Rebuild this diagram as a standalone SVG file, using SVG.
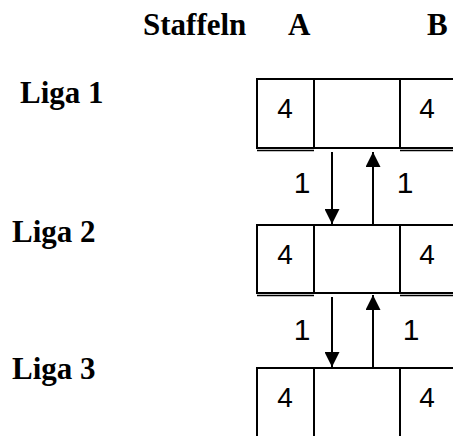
<svg xmlns="http://www.w3.org/2000/svg" width="453" height="436" viewBox="0 0 453 436">
<style>
.h{font-family:"Liberation Serif","Times New Roman",serif;font-weight:bold;font-size:31px;fill:#000}
.n{font-family:"Liberation Sans",Arial,sans-serif;font-size:28px;fill:#000;text-anchor:middle}
.o{font-family:"Liberation Sans",Arial,sans-serif;font-size:30px;fill:#000;text-anchor:middle}
.c{fill:#fff;stroke:#000;stroke-width:2}
.ln{stroke:#000;stroke-width:2;fill:none}
</style>
<defs>
<marker id="ah" viewBox="0 0 10 10" refX="10" refY="5" markerWidth="7.5" markerHeight="7.5" markerUnits="strokeWidth" orient="auto">
<path d="M0,0 L10,5 L0,10 z" fill="#000"/>
</marker>
</defs>
<rect width="453" height="436" fill="#fff"/>
<g id="headers">
<text class="h" x="143" y="35">Staffeln</text>
<text class="h" x="288" y="35">A</text>
<text class="h" x="427" y="35">B</text>
</g>
<g id="liga1-label"><text class="h" x="20" y="103">Liga 1</text></g>
<g id="liga2-label"><text class="h" x="12" y="242">Liga 2</text></g>
<g id="liga3-label"><text class="h" x="12" y="379">Liga 3</text></g>
<g id="liga1">
<rect class="c" x="257" y="79" width="57" height="69"/>
<rect class="c" x="314" y="79" width="86" height="69"/>
<rect class="c" x="400" y="79" width="60" height="69"/>
<line x1="257" y1="150.5" x2="314" y2="150.5" stroke="#000" stroke-width="1.5"/>
<line x1="400" y1="150.5" x2="453" y2="150.5" stroke="#000" stroke-width="1.5"/>
<text class="n" x="285" y="118">4</text>
<text class="n" x="427" y="118">4</text>
</g>
<g id="liga2">
<rect class="c" x="257" y="225" width="57" height="68"/>
<rect class="c" x="314" y="225" width="86" height="68"/>
<rect class="c" x="400" y="225" width="60" height="68"/>
<line x1="257" y1="295.5" x2="314" y2="295.5" stroke="#000" stroke-width="1.5"/>
<line x1="400" y1="295.5" x2="453" y2="295.5" stroke="#000" stroke-width="1.5"/>
<text class="n" x="285" y="264">4</text>
<text class="n" x="427" y="264">4</text>
</g>
<g id="liga3">
<rect class="c" x="257" y="368" width="57" height="80"/>
<rect class="c" x="314" y="368" width="86" height="80"/>
<rect class="c" x="400" y="368" width="60" height="80"/>
<text class="n" x="285" y="407">4</text>
<text class="n" x="427" y="407">4</text>
</g>
<g id="connectors">
<line class="ln" x1="332" y1="152" x2="332" y2="224" marker-end="url(#ah)"/>
<line class="ln" x1="373" y1="225" x2="373" y2="152" marker-end="url(#ah)"/>
<line class="ln" x1="332" y1="297" x2="332" y2="367" marker-end="url(#ah)"/>
<line class="ln" x1="373" y1="368" x2="373" y2="295" marker-end="url(#ah)"/>
<text class="o" x="302" y="193">1</text>
<text class="o" x="405" y="193">1</text>
<text class="o" x="302" y="340">1</text>
<text class="o" x="411" y="340">1</text>
</g>
</svg>
